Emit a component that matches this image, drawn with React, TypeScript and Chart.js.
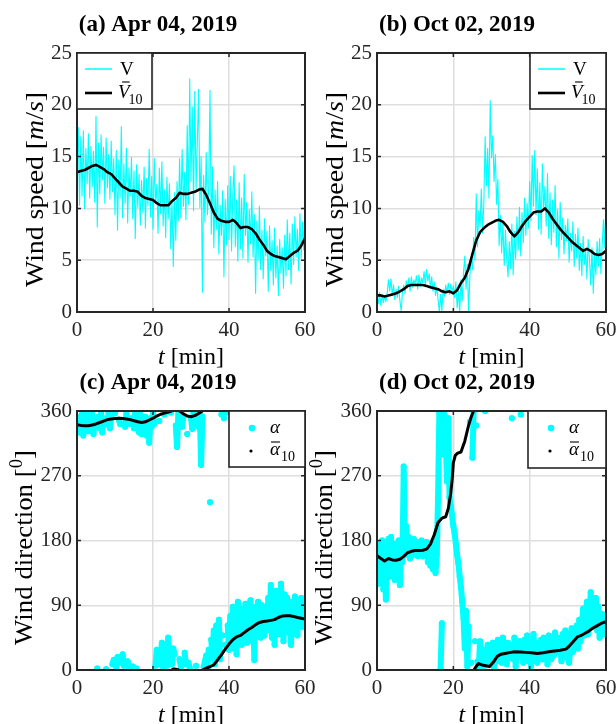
import React, { useEffect, useRef } from "react";
import { Chart, registerables } from "chart.js";

Chart.register(...registerables);

const PAGE_W = 616;
const PAGE_H = 724;
const SERIF = '"Liberation Serif", "Times New Roman", serif';
const CYAN = "#00ffff";
const AXIS = "#262626";
const GRID = "#dedede";
const TICK_LEN = 4;
const Y_AXIS_W = 40;
const X_AXIS_H = 30;

// Raw samples are 20 s apart, running means are given per point.
const SAMPLE_STEP_MIN = 1 / 3;
const MEAN_STEP_MIN = 1;

const TIME_TICKS = [0, 20, 40, 60];
const SPEED_TICKS = [0, 5, 10, 15, 20, 25];
const DIR_TICKS = [0, 90, 180, 270, 360];

// Wind speed V [m/s], Apr 04 2019
const speedApr = [
  14.5, 17.8, 10.3, 16.9, 11.2, 17.5, 10.0, 15.8, 12.4, 17.2, 11.0, 16.0,
  12.1, 15.5, 10.6, 18.9, 8.2, 16.3, 11.4, 17.1, 12.8, 15.9, 10.5, 16.8,
  12.0, 15.2, 10.9, 16.5, 11.6, 14.8, 9.4, 15.6, 7.9, 14.7, 11.0, 17.9,
  9.1, 14.3, 10.5, 15.8, 8.6, 13.9, 11.2, 14.9, 9.0, 13.6, 7.1, 14.2,
  10.1, 13.3, 8.4, 12.7, 9.6, 14.0, 8.1, 12.9, 10.3, 15.7, 9.2, 13.1,
  8.0, 14.8, 10.6, 12.3, 7.6, 13.9, 9.5, 14.5, 8.3, 11.8, 7.2, 13.0,
  9.0, 12.4, 6.1, 10.8, 4.4, 11.5, 6.9, 12.6, 8.8, 14.8, 9.1, 15.7,
  10.2, 13.5, 8.9, 18.0, 10.4, 22.5, 12.6, 19.8, 9.8, 21.3, 11.9, 16.4,
  21.5, 10.1, 15.0, 1.9, 13.2, 8.7, 15.4, 9.4, 12.0, 21.4, 7.5, 14.0,
  6.2, 11.8, 8.0, 12.6, 5.6, 10.3, 7.4, 11.7, 3.4, 10.9, 6.5, 12.2,
  7.0, 13.1, 5.9, 11.4, 14.1, 6.3, 10.8, 4.9, 12.5, 6.1, 11.0, 5.2,
  13.3, 7.4, 10.6, 4.8, 9.9, 6.6, 11.6, 5.3, 9.4, 1.8, 8.8, 5.0,
  10.2, 4.1, 7.9, 3.2, 9.0, 5.4, 7.8, 2.0, 8.3, 4.0, 6.9, 2.6,
  8.1, 3.3, 6.4, 1.6, 7.0, 3.8, 6.2, 2.3, 7.4, 3.5, 8.9, 4.1,
  7.6, 2.7, 8.5, 4.6, 9.2, 5.3, 8.0, 4.0, 9.5, 5.2, 8.7, 6.0,
  11.3,
];

// 10-min running mean of V, Apr 04 2019 (one value per minute)
const meanSpeedApr = [
  13.5, 13.6, 13.7, 13.9, 14.1, 14.2, 14.0, 13.8, 13.5, 13.3, 12.9, 12.5,
  12.1, 11.9, 11.7, 11.7, 11.6, 11.2, 11.0, 10.9, 10.8, 10.5, 10.3, 10.3,
  10.3, 10.7, 11.0, 11.5, 11.4, 11.4, 11.5, 11.6, 11.8, 11.9, 11.3, 10.5,
  9.6, 9.0, 8.8, 8.7, 8.7, 8.9, 8.6, 8.1, 8.2, 8.2, 8.0, 7.6,
  7.0, 6.5, 5.9, 5.6, 5.4, 5.3, 5.2, 5.1, 5.4, 5.7, 5.9, 6.4,
  7.1,
];

// Wind speed V [m/s], Oct 02 2019
const speedOct = [
  1.6, 0.8, 1.9, 0.6, 1.7, 0.9, 1.5, 1.0, 1.8, 3.1, 2.0, 3.2,
  1.6, 2.6, 1.2, 2.2, 1.4, 2.5, 1.1, 0.1, 1.9, 2.6, 1.8, 3.0,
  2.3, 3.3, 2.0, 3.4, 2.4, 3.1, 2.7, 3.5, 2.2, 3.6, 2.5, 3.3,
  2.8, 3.9, 2.6, 4.1, 3.0, 3.7, 2.3, 3.4, 2.0, 2.9, 1.6, 2.4,
  1.2, 0.0, 1.7, 0.1, 2.2, 1.5, 2.6, 1.9, 2.8, 1.7, 2.7, 2.0,
  2.5, 1.4, 2.9, 0.4, 2.0, 0.0, 3.1, 1.1, 3.8, 5.4, 2.2, 4.6,
  0.0, 3.5, 5.2, 4.1, 7.2, 5.0, 11.4, 6.3, 9.8, 8.2, 11.9, 7.6,
  10.6, 16.9, 12.2, 15.8, 11.0, 20.4, 14.9, 17.0, 12.6, 15.2, 10.4, 12.8,
  6.4, 9.3, 5.7, 8.6, 4.5, 7.9, 5.0, 3.4, 6.8, 4.2, 8.5, 3.6,
  7.8, 5.1, 9.2, 6.0, 10.1, 5.4, 9.6, 6.7, 11.0, 7.4, 10.5, 8.1,
  12.6, 8.8, 15.1, 10.2, 15.6, 9.4, 13.8, 8.0, 12.5, 7.5, 14.3, 9.9,
  12.1, 8.3, 13.4, 7.1, 11.5, 6.5, 10.8, 7.7, 12.2, 6.3, 9.9, 5.2,
  10.6, 7.0, 9.1, 5.6, 8.4, 6.9, 9.0, 4.8, 7.6, 5.9, 8.7, 4.4,
  7.5, 5.2, 8.1, 4.0, 6.6, 3.5, 7.3, 4.6, 6.0, 3.2, 7.0, 5.1,
  2.6, 6.2, 1.8, 5.5, 3.6, 6.8, 4.4, 7.1, 3.7, 6.5, 8.9, 6.2,
  11.2,
];

// 10-min running mean of V, Oct 02 2019 (one value per minute)
const meanSpeedOct = [
  1.6, 1.6, 1.5, 1.6, 1.7, 1.8, 2.0, 2.2, 2.5, 2.6, 2.6, 2.6,
  2.6, 2.5, 2.4, 2.3, 2.2, 2.0, 1.9, 2.0, 1.8, 2.1, 2.8, 3.3,
  4.2, 5.6, 6.9, 7.7, 8.1, 8.4, 8.6, 8.8, 8.9, 8.7, 8.3, 7.7,
  7.3, 7.7, 8.3, 8.8, 9.2, 9.6, 9.7, 9.7, 10.0, 9.6, 9.0, 8.5,
  8.0, 7.6, 7.2, 6.8, 6.5, 6.2, 5.9, 6.1, 5.9, 5.6, 5.5, 5.6,
  5.9,
];

// Wind direction alpha [deg], Apr 04 2019
const dirApr = [
  345, 330, 352, 338, 356, 326, 348, 335, 355, 332, 350, 340,
  355, 328, 347, 338, 2, 352, 336, 358, 330, 350, 341, 1,
  344, 358, 336, 352, 8, 14, 357, 4, 18, 348, 342, 10,
  22, 6, 338, 356, 12, 3, 342, 350, 5, 336, 358, 2,
  340, 330, 355, 328, 348, 335, 352, 326, 344, 316, 350, 338,
  357, 342, 6, 28, 8, 346, 12, 38, 4, 355, 20, 6,
  45, 18, 358, 8, 30, 22, 340, 310, 356, 15, 4, 338,
  352, 24, 8, 328, 10, 3, 350, 335, 358, 342, 6, 352,
  338, 356, 285, 352, 4, 12, 20, 2, 28, 233, 42, 18,
  55, 8, 62, 25, 70, 15, 355, 48, 350, 35, 358, 62,
  28, 75, 40, 88, 30, 68, 22, 95, 45, 70, 35, 85,
  50, 92, 38, 75, 55, 97, 40, 80, 14, 88, 58, 95,
  62, 45, 90, 70, 48, 85, 55, 100, 62, 118, 45, 92,
  35, 110, 70, 95, 50, 120, 78, 40, 105, 65, 100, 52,
  85, 35, 95, 60, 102, 70, 48, 92, 75, 100, 60, 88,
  72,
];

// 10-min mean direction, Apr 04 2019
const meanDirAprT = [
  0, 1, 2, 3, 4, 5, 6, 7, 8, 9, 10, 11, 12, 13, 14, 15, 16, 17, 18, 19,
  20, 21, 22, 23, 24, 24.8, 25.2, 25.6, 26, 26.6, 27, 28, 29, 30, 31, 32,
  32.9, 33.2, 34, 35, 36, 37, 38, 39, 40, 41, 42, 43, 44, 45, 46, 47, 48,
  49, 50, 51, 52, 53, 54, 55, 56, 57, 58, 59, 60,
];
const meanDirAprV = [
  341, 340, 339.5, 339.5, 340.5, 342, 344, 346, 348, 349, 349.5, 350, 349.5,
  349, 348, 346.5, 345, 344, 345, 347.5, 350, 353, 355.5, 357, 358.5, 360,
  1, 1.5, 1, 0.3, 359.8, 356, 353, 352, 353.5, 356.5, 359.8, 0.3, 2.5, 4.5,
  7, 14, 21, 29, 36, 42, 46, 48, 52, 56, 59, 63, 66, 67.5, 68, 69, 70, 73,
  75, 75.5, 75.5, 74.5, 73, 72, 71,
];

// Wind direction alpha [deg], Oct 02 2019
const dirOct = [
  160, 120, 175, 140, 180, 112, 165, 98, 150, 182, 130, 185,
  148, 175, 125, 165, 140, 180, 118, 170, 150, 283, 160, 200,
  168, 185, 155, 175, 160, 182, 165, 178, 158, 172, 162, 180,
  158, 174, 165, 178, 150, 170, 145, 168, 140, 175, 135, 160,
  240, 358, 2, 65, 300, 355, 320, 262, 350, 240, 228, 215,
  200, 190, 175, 160, 148, 130, 115, 95, 72, 30, 82, 5,
  60, 345, 10, 295, 360, 40, 340, 12, 4, 40, 12, 28,
  5, 360, 20, 35, 8, 25, 15, 38, 3, 30, 12, 42,
  20, 35, 10, 45, 18, 30, 8, 38, 22, 28, 350, 15,
  45, 5, 32, 18, 40, 355, 30, 10, 42, 22, 48, 12,
  35, 5, 30, 50, 20, 38, 10, 35, 25, 42, 15, 45,
  22, 38, 8, 48, 28, 15, 40, 20, 52, 25, 45, 360,
  35, 12, 50, 30, 55, 18, 45, 10, 40, 58, 25, 50,
  35, 62, 30, 70, 40, 55, 85, 48, 75, 95, 50, 70,
  108, 60, 90, 75, 100, 55, 88, 45, 70, 78, 50, 65,
  58,
];

// 10-min mean direction, Oct 02 2019
const meanDirOctT = [
  0, 1, 2, 3, 4, 5, 6, 7, 8, 9, 10, 11, 12, 13, 14, 15, 16, 17, 18,
  18.7, 19.3, 19.7, 20, 20.5, 21, 22, 23, 24, 24.7, 25.3,
  25.5, 26, 26.6, 27.5, 28.5, 29.5, 30.5, 31.5, 32.5, 33.5,
  35, 36, 37.5, 39, 40.5, 42, 43.5, 45, 46.5, 48, 49.5,
  50.5, 51.5, 52.5, 53.5, 54.5, 55.5, 56.5, 57.5, 58.5, 59.3, 60,
];
const meanDirOctV = [
  159, 155, 151.5, 155, 153, 152.5, 154, 158, 163, 165, 166, 166, 166.5, 168,
  175, 188, 205, 211, 213,
  225, 245, 265, 288, 298, 301, 303, 318, 340, 352, 360,
  1, 5, 9, 7, 6, 5, 11, 19, 22, 23,
  24.5, 25.5, 25, 24.5, 24, 23, 24, 25.5, 26.5, 27.5, 29,
  34, 40, 46, 48, 51, 54, 58, 61, 64, 66, 67,
];

type Pt = { x: number; y: number | null };
type Run = { text: string; font: string; dy?: number };

interface PanelSpec {
  id: string;
  kind: "speed" | "dir";
  title: string;
  titleX: number;
  L: number;
  T: number;
  R: number;
  B: number;
  raw: Pt[];
  mean: Pt[];
  legend: { x: number; y: number; w: number; h: number };
}

function evenSeries(values: number[], step: number): Pt[] {
  return values.map((v, i) => ({ x: i * step, y: v }));
}

function pairSeries(ts: number[], vs: number[]): Pt[] {
  return ts.map((t, i) => ({ x: t, y: vs[i] }));
}

// Direction is circular: lift the pen where the trace wraps between 0 and 360.
function breakAtWrap(pts: Pt[]): Pt[] {
  const out: Pt[] = [];
  pts.forEach((p, i) => {
    const prev = pts[i - 1];
    if (prev && Math.abs((p.y as number) - (prev.y as number)) > 180) {
      out.push({ x: (p.x + prev.x) / 2, y: null });
    }
    out.push(p);
  });
  return out;
}

const PANELS: PanelSpec[] = [
  {
    id: "a",
    kind: "speed",
    title: "(a) Apr 04, 2019",
    titleX: 158,
    L: 77,
    T: 53,
    R: 305,
    B: 312,
    raw: evenSeries(speedApr, SAMPLE_STEP_MIN),
    mean: evenSeries(meanSpeedApr, MEAN_STEP_MIN),
    legend: { x: 77, y: 53, w: 75, h: 56 },
  },
  {
    id: "b",
    kind: "speed",
    title: "(b) Oct 02, 2019",
    titleX: 457,
    L: 377,
    T: 53,
    R: 606,
    B: 312,
    raw: evenSeries(speedOct, SAMPLE_STEP_MIN),
    mean: evenSeries(meanSpeedOct, MEAN_STEP_MIN),
    legend: { x: 530, y: 53, w: 76, h: 56 },
  },
  {
    id: "c",
    kind: "dir",
    title: "(c) Apr 04, 2019",
    titleX: 158,
    L: 77,
    T: 411,
    R: 305,
    B: 670,
    raw: breakAtWrap(evenSeries(dirApr, SAMPLE_STEP_MIN)),
    mean: breakAtWrap(pairSeries(meanDirAprT, meanDirAprV)),
    legend: { x: 229, y: 411, w: 76, h: 56 },
  },
  {
    id: "d",
    kind: "dir",
    title: "(d) Oct 02, 2019",
    titleX: 457,
    L: 377,
    T: 411,
    R: 606,
    B: 670,
    raw: breakAtWrap(evenSeries(dirOct, SAMPLE_STEP_MIN)),
    mean: breakAtWrap(pairSeries(meanDirOctT, meanDirOctV)),
    legend: { x: 528, y: 411, w: 78, h: 57 },
  },
];

function font(size: number, style = "", weight = ""): string {
  return `${style} ${weight} ${size}px ${SERIF}`.trim();
}

// Draws a sequence of differently styled text runs along one baseline.
function drawRuns(
  ctx: CanvasRenderingContext2D,
  runs: Run[],
  x: number,
  y: number,
  rotate = 0,
  fit = 0
) {
  ctx.save();
  ctx.translate(x, y);
  if (rotate) ctx.rotate(rotate);
  let total = 0;
  const widths = runs.map((r) => {
    ctx.font = r.font;
    const w = ctx.measureText(r.text).width;
    total += w;
    return w;
  });
  if (fit) ctx.scale(fit / total, 1);
  ctx.textAlign = "left";
  ctx.textBaseline = "alphabetic";
  ctx.fillStyle = "#000";
  let cx = -total / 2;
  runs.forEach((r, i) => {
    ctx.font = r.font;
    ctx.fillText(r.text, cx, r.dy || 0);
    cx += widths[i];
  });
  ctx.restore();
}

function seg(ctx: CanvasRenderingContext2D, x1: number, y1: number, x2: number, y2: number) {
  ctx.beginPath();
  ctx.moveTo(x1, y1);
  ctx.lineTo(x2, y2);
  ctx.stroke();
}

function drawLegendBox(ctx: CanvasRenderingContext2D, x: number, y: number, w: number, h: number) {
  ctx.fillStyle = "#fff";
  ctx.fillRect(x, y, w, h);
  ctx.strokeStyle = AXIS;
  ctx.lineWidth = 1.6;
  ctx.strokeRect(x, y, w, h);
}

function drawSpeedLegend(ctx: CanvasRenderingContext2D, p: PanelSpec) {
  const { x, y, w, h } = p.legend;
  drawLegendBox(ctx, x, y, w, h);
  ctx.lineCap = "butt";
  ctx.strokeStyle = CYAN;
  ctx.lineWidth = 1.5;
  seg(ctx, x + 8, y + 16, x + 35, y + 16);
  ctx.fillStyle = "#000";
  ctx.textAlign = "left";
  ctx.textBaseline = "alphabetic";
  ctx.font = font(19);
  ctx.fillText("V", x + 43, y + 22);

  ctx.strokeStyle = "#000";
  ctx.lineWidth = 2.6;
  seg(ctx, x + 8, y + 40, x + 35, y + 40);
  ctx.font = font(19, "italic");
  const vw = ctx.measureText("V").width;
  const vx = x + 41;
  ctx.fillText("V", vx, y + 45);
  ctx.lineWidth = 1.1;
  seg(ctx, vx + vw * 0.35, y + 29, vx + vw * 1.0, y + 29);
  ctx.font = font(14);
  ctx.fillText("10", vx + vw - 1, y + 51);
}

function drawDirLegend(ctx: CanvasRenderingContext2D, p: PanelSpec) {
  const { x, y, w, h } = p.legend;
  drawLegendBox(ctx, x, y, w, h);
  ctx.fillStyle = CYAN;
  ctx.beginPath();
  ctx.arc(x + 23, y + 17, 3.3, 0, Math.PI * 2);
  ctx.fill();
  ctx.fillStyle = "#000";
  ctx.beginPath();
  ctx.arc(x + 22, y + 40, 1.6, 0, Math.PI * 2);
  ctx.fill();

  ctx.textAlign = "left";
  ctx.textBaseline = "alphabetic";
  ctx.font = font(19, "italic");
  const aw = ctx.measureText("\u03b1").width;
  const ax = x + 41;
  ctx.fillText("\u03b1", ax, y + 22);
  ctx.fillText("\u03b1", ax, y + 44);
  ctx.strokeStyle = "#000";
  ctx.lineWidth = 1.1;
  seg(ctx, ax + 1, y + 31, ax + aw, y + 31);
  ctx.font = font(14);
  ctx.fillText("10", ax + aw + 1, y + 50);
}

function decorPlugin(p: PanelSpec) {
  const yTicks = p.kind === "speed" ? SPEED_TICKS : DIR_TICKS;
  return {
    id: "decor-" + p.id,
    afterDraw(chart: any) {
      const ctx: CanvasRenderingContext2D = chart.ctx;
      const a = chart.chartArea;
      const xs = chart.scales.x;
      const ys = chart.scales.y;
      ctx.save();

      // inward tick marks on all four sides of the box
      ctx.strokeStyle = AXIS;
      ctx.lineWidth = 1.5;
      ctx.beginPath();
      for (const v of TIME_TICKS) {
        const px = xs.getPixelForValue(v);
        ctx.moveTo(px, a.bottom);
        ctx.lineTo(px, a.bottom - TICK_LEN);
        ctx.moveTo(px, a.top);
        ctx.lineTo(px, a.top + TICK_LEN);
      }
      for (const v of yTicks) {
        const py = ys.getPixelForValue(v);
        ctx.moveTo(a.left, py);
        ctx.lineTo(a.left + TICK_LEN, py);
        ctx.moveTo(a.right, py);
        ctx.lineTo(a.right - TICK_LEN, py);
      }
      ctx.stroke();

      ctx.lineWidth = 2;
      ctx.strokeRect(a.left, a.top, a.right - a.left, a.bottom - a.top);

      if (p.kind === "speed") drawSpeedLegend(ctx, p);
      else drawDirLegend(ctx, p);

      // panel title
      ctx.fillStyle = "#000";
      ctx.textAlign = "center";
      ctx.textBaseline = "alphabetic";
      ctx.font = font(23, "", "bold");
      ctx.fillText(p.title, p.titleX, a.top - 22);

      // x label
      drawRuns(
        ctx,
        [
          { text: "t", font: font(24, "italic") },
          { text: " [min]", font: font(24) },
        ],
        (a.left + a.right) / 2,
        a.bottom + 52
      );

      // y label
      const isSpeed = p.kind === "speed";
      const yRuns: Run[] = isSpeed
        ? [
            { text: "Wind speed [", font: font(26) },
            { text: "m", font: font(26, "italic") },
            { text: "/", font: font(26) },
            { text: "s", font: font(26, "italic") },
            { text: "]", font: font(26) },
          ]
        : [
            { text: "Wind direction [", font: font(26) },
            { text: "0", font: font(18), dy: -10 },
            { text: "]", font: font(26) },
          ];
      drawRuns(
        ctx,
        yRuns,
        a.left - (isSpeed ? 34 : 45),
        (a.top + a.bottom) / 2 + 7,
        -Math.PI / 2,
        195
      );

      ctx.restore();
    },
  };
}

function buildChart(canvas: HTMLCanvasElement, p: PanelSpec): Chart {
  const isDir = p.kind === "dir";
  const yTicks = isDir ? DIR_TICKS : SPEED_TICKS;
  const tickFont = { family: SERIF, size: 21 };
  return new Chart(canvas, {
    type: "line",
    data: {
      datasets: [
        {
          data: p.raw as any,
          borderColor: CYAN,
          backgroundColor: CYAN,
          borderWidth: isDir ? 6 : 1.1,
          pointRadius: isDir ? 3 : 0,
          pointBorderWidth: 0,
          pointBackgroundColor: CYAN,
          borderCapStyle: "round",
          borderJoinStyle: "round",
          spanGaps: false,
          tension: 0,
          order: 2,
        },
        {
          data: p.mean as any,
          borderColor: "#000",
          backgroundColor: "#000",
          borderWidth: isDir ? 3 : 2.6,
          pointRadius: 0,
          borderCapStyle: "round",
          borderJoinStyle: "round",
          spanGaps: false,
          tension: 0,
          order: 1,
        },
      ],
    },
    options: {
      animation: false,
      responsive: false,
      events: [],
      layout: {
        padding: {
          left: p.L - Y_AXIS_W,
          right: PAGE_W - p.R,
          top: p.T,
          bottom: PAGE_H - p.B - X_AXIS_H,
        },
      },
      plugins: {
        legend: { display: false },
        tooltip: { enabled: false },
        title: { display: false },
      },
      scales: {
        x: {
          type: "linear",
          min: 0,
          max: 60,
          border: { display: false },
          grid: { color: GRID, lineWidth: 1.5, drawTicks: false },
          ticks: {
            font: tickFont,
            color: AXIS,
            padding: 6,
            maxRotation: 0,
            autoSkip: false,
            callback: (v: any) => String(v),
          },
          afterBuildTicks: (s: any) => {
            s.ticks = TIME_TICKS.map((v) => ({ value: v }));
          },
          afterFit: (s: any) => {
            s.height = X_AXIS_H;
            s.paddingLeft = 0;
            s.paddingRight = 0;
          },
        },
        y: {
          type: "linear",
          min: 0,
          max: isDir ? 360 : 25,
          border: { display: false },
          grid: { color: GRID, lineWidth: 1.5, drawTicks: false },
          ticks: {
            font: tickFont,
            color: AXIS,
            padding: 5,
            autoSkip: false,
            callback: (v: any) => String(v),
          },
          afterBuildTicks: (s: any) => {
            s.ticks = yTicks.map((v) => ({ value: v }));
          },
          afterFit: (s: any) => {
            s.width = Y_AXIS_W;
            s.paddingTop = 0;
            s.paddingBottom = 0;
          },
        },
      },
    } as any,
    plugins: [decorPlugin(p)],
  });
}

function PanelCanvas({ spec }: { spec: PanelSpec }) {
  const ref = useRef<HTMLCanvasElement>(null);
  useEffect(() => {
    const chart = buildChart(ref.current as HTMLCanvasElement, spec);
    return () => chart.destroy();
  }, [spec]);
  return (
    <canvas
      ref={ref}
      width={PAGE_W}
      height={PAGE_H}
      style={{ position: "absolute", left: 0, top: 0, width: PAGE_W, height: PAGE_H }}
    />
  );
}

export default function App() {
  return (
    <div
      style={{
        position: "fixed",
        left: 0,
        top: 0,
        width: PAGE_W,
        height: PAGE_H,
        background: "#fff",
        overflow: "hidden",
      }}
    >
      {PANELS.map((p) => (
        <PanelCanvas key={p.id} spec={p} />
      ))}
    </div>
  );
}
